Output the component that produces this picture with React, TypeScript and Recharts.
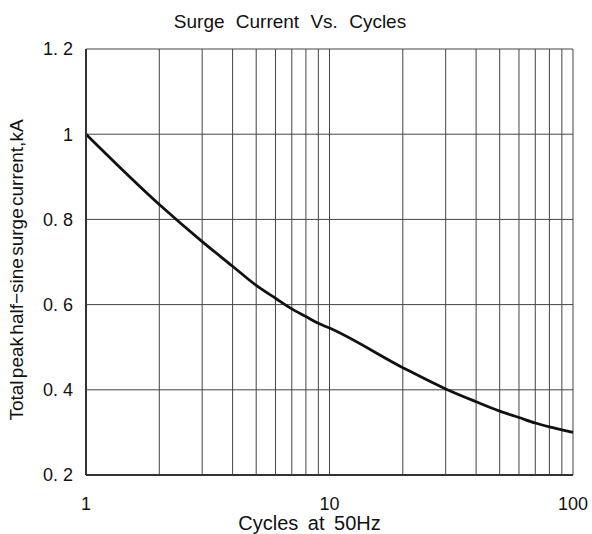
import React from "react";
import {
    LineChart,
    Line,
    XAxis,
    YAxis,
    CartesianGrid,
    Label,
} from "recharts";

// cycles at 50Hz (log axis) and read-off peak current, kA
const cycles = [1, 2, 3, 4, 5, 6, 7, 8, 9, 10, 20, 30, 40, 50, 60, 70, 80, 90, 100];
const current = [1.0, 0.835, 0.748, 0.69, 0.645, 0.615, 0.59, 0.572, 0.556, 0.545, 0.452, 0.402, 0.372, 0.35, 0.335, 0.322, 0.313, 0.306, 0.3];

const xTicks = [1, 2, 3, 4, 5, 6, 7, 8, 9, 10, 20, 30, 40, 50, 60, 70, 80, 90, 100];
const xLabels = [1, 10, 100];
const yTicks = [0.2, 0.4, 0.6, 0.8, 1.0, 1.2];
const yLabels = ["0. 2", "0. 4", "0. 6", "0. 8", "1", "1. 2"];

const data = cycles.map((c, i) => ({ cycles: c, current: current[i] }));

const font = "'Liberation Sans', Arial, sans-serif";

const App: React.FC = () => {
    return (
        <div style={{ position: "absolute", left: 0, top: 0, fontFamily: font }}>
            <div
                style={{
                    position: "absolute",
                    left: 0,
                    top: 11,
                    width: 580,
                    textAlign: "center",
                    fontSize: 19,
                    wordSpacing: 6,
                    color: "#111",
                }}
            >
                Surge Current Vs. Cycles
            </div>
            <LineChart
                width={592}
                height={534}
                data={data}
                margin={{ top: 49, right: 19, bottom: 0, left: 0 }}
            >
                <CartesianGrid stroke="#444" strokeWidth={1} />
                <XAxis
                    dataKey="cycles"
                    type="number"
                    scale="log"
                    domain={[1, 100]}
                    ticks={xTicks}
                    interval={0}
                    height={59}
                    tickLine={false}
                    tickMargin={16}
                    axisLine={{ stroke: "#333", strokeWidth: 2 }}
                    tick={{ fill: "#111", fontSize: 18, fontFamily: font }}
                    tickFormatter={(v: number) => (xLabels.includes(v) ? String(v) : "")}
                >
                    <Label
                        value="Cycles at 50Hz"
                        position="insideBottom"
                        offset={4}
                        dx={-20}
                        style={{ fill: "#111", fontSize: 20, fontFamily: font, wordSpacing: 4 }}
                    />
                </XAxis>
                <YAxis
                    type="number"
                    domain={[0.2, 1.2]}
                    ticks={yTicks}
                    width={86}
                    tickLine={false}
                    tickMargin={7}
                    axisLine={{ stroke: "#333", strokeWidth: 2 }}
                    tick={{ fill: "#111", fontSize: 18, fontFamily: font }}
                    tickFormatter={(v: number) => yLabels[yTicks.findIndex((t) => Math.abs(t - v) < 1e-6)]}
                >
                    <Label
                        value="Total peak half−sine surge current,kA"
                        angle={-90}
                        position="insideLeft"
                        offset={16}
                        dy={8}
                        style={{ fill: "#111", fontSize: 19, fontFamily: font, textAnchor: "middle", wordSpacing: -3 }}
                    />
                </YAxis>
                <Line
                    type="monotone"
                    dataKey="current"
                    stroke="#111"
                    strokeWidth={2.8}
                    dot={false}
                    isAnimationActive={false}
                />
            </LineChart>
        </div>
    );
};

export default App;
